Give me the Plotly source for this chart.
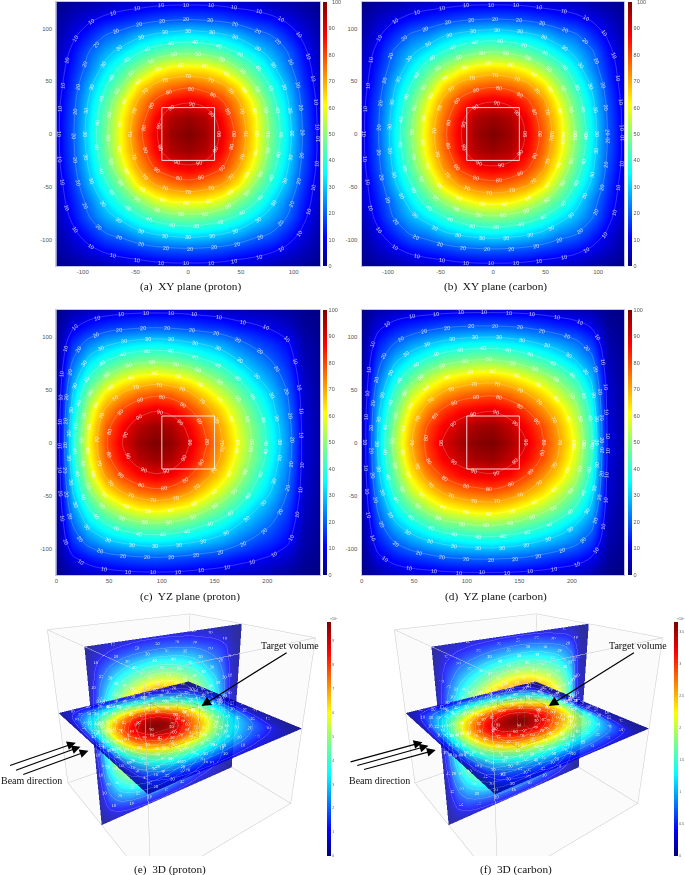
import math
import numpy as np
import plotly.graph_objects as go

W, H = 685, 875
AXIS_MM = [-125, -109.375, -93.75, -78.125, -62.5, -46.875, -31.25, -15.625, 0,
           15.625, 31.25, 46.875, 62.5, 78.125, 93.75, 109.375, 125]
DEPTH_MM = [0, 15.625, 31.25, 46.875, 62.5, 78.125, 93.75, 109.375, 125, 140.625,
            156.25, 171.875, 187.5, 203.125, 218.75, 234.375, 250]
XY_TICKS = [-100, -50, 0, 50, 100]
DEPTH_TICKS = [0, 50, 100, 150, 200]
LEVELS = [10, 20, 30, 40, 50, 60, 70, 80, 90]
CBAR_TICKS = [0, 10, 20, 30, 40, 50, 60, 70, 80, 90, 100]
TICKS_3D_P = [0, 1, 2, 3, 4, 5, 6, 7, 8, 9]
TICKS_3D_C = [0, 0.5, 1, 1.5, 2, 2.5, 3, 3.5]
PEAK_3D_P = 9.8
PEAK_3D_C = 3.65
CAPTIONS = ["(a)  XY plane (proton)", "(b)  XY plane (carbon)", "(c)  YZ plane (proton)",
            "(d)  YZ plane (carbon)", "(e)  3D (proton)", "(f)  3D (carbon)"]

# Relative dose, quadrant from the centre outwards (rows: |y|, columns: |x|)
XY_PROTON = [
    [100, 97, 89, 77.5, 62.5, 48, 34, 19, 8],
    [97, 95, 87, 75, 62, 47, 33, 18.5, 8],
    [89, 87, 81, 71, 58, 44, 31, 17.5, 7.5],
    [77.5, 75, 71, 63, 50, 39, 28, 15.5, 6.5],
    [62.5, 62, 58, 50, 42, 33, 23, 13.5, 6],
    [48, 47, 44, 39, 33, 27, 20, 11.5, 4.5],
    [34, 33, 31, 28, 23, 20, 14, 8.5, 3.5],
    [19, 18.5, 17.5, 15.5, 13.5, 11.5, 8.5, 5.5, 2.5],
    [8, 8, 7.5, 6.5, 6, 4.5, 3.5, 2.5, 1],
]
XY_CARBON = [
    [100, 97, 89.5, 78, 64, 49.5, 35, 19.5, 8],
    [97, 95, 88, 76, 63, 48, 34, 19, 8],
    [89.5, 88, 82, 72, 59, 45, 32, 18, 7.5],
    [78, 76, 72, 64, 52, 40, 29, 16, 6.5],
    [64, 63, 59, 52, 44, 34, 24, 14, 6],
    [49.5, 48, 45, 40, 34, 28, 21, 12, 5],
    [35, 34, 32, 29, 24, 21, 15, 9, 3.5],
    [19.5, 19, 18, 16, 14, 12, 9, 6, 2.5],
    [8, 8, 7.5, 6.5, 6, 5, 3.5, 2.5, 1],
]
# Rows: |y| outwards, columns: depth 0..250
YZ_PROTON = [
    [3, 37, 62, 79, 90, 97, 100, 98, 91, 81.5, 71, 60, 48, 37, 25, 8, 3],
    [3, 36, 60, 77, 87, 94, 97, 95, 88, 79, 69, 58, 47, 36, 24, 8, 3],
    [3, 33, 56, 71, 80, 86, 89, 87, 81, 73, 64, 54, 43, 33, 22, 7.5, 2.5],
    [2.5, 30, 49, 62, 70, 75, 77.5, 76, 71, 64, 56, 47.5, 38, 30, 20, 7, 2.5],
    [2.5, 25, 40, 50, 57, 61, 62.5, 61, 58, 52, 46, 39, 31, 25, 17, 6, 2],
    [2, 20, 32, 39, 44, 47, 48, 47, 44, 40, 36, 30, 25, 20, 14, 5, 2],
    [2, 15, 23, 28, 31, 33, 34, 33, 31, 29, 26, 22, 18, 15, 11, 4, 1.5],
    [1.5, 9, 13, 16, 17.5, 18.5, 19, 18.5, 17.5, 16, 15, 12.5, 11, 9, 6.5, 2.5, 1],
    [1, 4, 5.5, 6.5, 7.5, 8, 8, 8, 7.5, 7, 6, 5.5, 4.5, 4, 3, 1.5, 0.5],
]
YZ_CARBON = [
    [3, 31, 53, 69, 82, 91, 96, 99, 100, 96, 90, 81, 71, 59, 41, 8, 3],
    [3, 30, 51, 67, 80, 88, 93, 96, 97, 93, 87, 79, 69, 57, 40, 8, 3],
    [3, 28, 47, 62, 73, 81, 86, 88, 89, 86, 80, 72, 64, 53, 37, 7.5, 2.5],
    [2.5, 25, 42, 55, 64, 71, 75, 77, 78, 75, 70, 64, 56, 47, 33, 7, 2.5],
    [2.5, 21, 35, 45, 53, 59, 62, 64, 64.5, 62, 58, 53, 47, 39, 28, 6, 2],
    [2, 17, 28, 35, 41, 46, 48, 50, 50, 48, 45, 41, 36, 30, 22, 5, 2],
    [2, 13, 20, 25, 29, 32, 34, 35, 35.5, 34, 32, 29, 26, 22, 16, 4, 1.5],
    [1.5, 8.5, 12.5, 15, 17, 19, 20, 20.5, 20.5, 20, 19, 17, 15, 13, 9.5, 2.5, 1],
    [1, 4, 5.5, 6.5, 7, 7.5, 8, 8, 8, 8, 7.5, 7, 6, 5, 4, 1.5, 0.5],
]

JET = [[0, "#00007f"], [0.11, "#0000ff"], [0.35, "#00ffff"], [0.49, "#80ff80"],
       [0.61, "#ffff00"], [0.87, "#ff0000"], [1, "#7f0000"]]
SANS = "Liberation Sans"
SERIF = "Liberation Serif"


def px(x):
    return x / W


def py(y):
    return 1 - y / H


def mirror_rows(rows):
    return np.array(rows[:0:-1] + rows, dtype=float)


def mirror_quadrant(rows):
    full = [r[:0:-1] + r for r in rows]
    return mirror_rows(full)


def sample(xs, ys, Z, x, y):
    i = min(max(np.searchsorted(xs, x) - 1, 0), len(xs) - 2)
    j = min(max(np.searchsorted(ys, y) - 1, 0), len(ys) - 2)
    tx = (x - xs[i]) / (xs[i + 1] - xs[i])
    ty = (y - ys[j]) / (ys[j + 1] - ys[j])
    return ((1 - tx) * (1 - ty) * Z[j, i] + tx * (1 - ty) * Z[j, i + 1]
            + (1 - tx) * ty * Z[j + 1, i] + tx * ty * Z[j + 1, i + 1])


def iso_path(xs, ys, Z, level):
    """Contour of the table at `level`, walked out from the peak of the table."""
    j0, i0 = np.unravel_index(np.argmax(Z), Z.shape)
    cx, cy = xs[i0], ys[j0]
    pts = []
    for a in np.linspace(0, 2 * math.pi, 361):
        r = 0.0
        hit = None
        while True:
            r += 0.5
            x, y = cx + r * math.cos(a), cy + r * math.sin(a)
            if x < xs[0] or x > xs[-1] or y < ys[0] or y > ys[-1]:
                break
            if sample(xs, ys, Z, x, y) < level:
                hit = (x, y)
                break
        pts.append(hit)
    return pts


def label_spots(xs, ys, Z, level, spacing):
    pts = iso_path(xs, ys, Z, level)
    spots = []
    run = spacing * 0.5 + level * 0.37
    n = len(pts) - 1
    for k in range(n):
        p, q = pts[k], pts[k + 1]
        if p is None or q is None:
            continue
        run += math.hypot(q[0] - p[0], q[1] - p[1])
        a, b = pts[(k - 8) % n], pts[(k + 8) % n]
        if run >= spacing and a is not None and b is not None:
            run = 0
            ang = math.degrees(math.atan2(-(b[1] - a[1]), b[0] - a[0]))
            while ang > 90:
                ang -= 180
            while ang <= -90:
                ang += 180
            spots.append((p[0], p[1], ang))
    return spots


fig = go.Figure()
annotations = []
shapes = []

PANELS = [
    ("", AXIS_MM, mirror_quadrant(XY_PROTON), XY_TICKS, [-25, 25], 54.5, 319, 2, 266, 321.7),
    ("2", AXIS_MM, mirror_quadrant(XY_CARBON), XY_TICKS, [-25, 25], 360.7, 624.3, 2, 266, 627.7),
    ("3", DEPTH_MM, mirror_rows(YZ_PROTON), DEPTH_TICKS, [100, 150], 54.5, 319, 310, 575, 321.7),
    ("4", DEPTH_MM, mirror_rows(YZ_CARBON), DEPTH_TICKS, [100, 150], 360.7, 624.3, 310, 575, 627.7),
]
for sfx, xs, Z, xticks, box, x0, x1, y0, y1, cb in PANELS:
    xa, ya = "x" + sfx, "y" + sfx
    fig.add_trace(go.Heatmap(
        x=xs, y=AXIS_MM, z=Z, xaxis=xa, yaxis=ya, zsmooth="best", colorscale=JET, zmin=0, zmax=100,
        hoverinfo="skip",
        colorbar=dict(x=px(cb), xanchor="left", xpad=0, ypad=0, y=py((y0 + y1) / 2), yanchor="middle",
                      len=(y1 - y0) / H, lenmode="fraction", thickness=4, thicknessmode="pixels",
                      outlinewidth=0, ticks="", tickvals=CBAR_TICKS,
                      tickfont=dict(size=5.5, family=SANS, color="#555555")),
    ))
    fig.add_trace(go.Contour(
        x=xs, y=AXIS_MM, z=Z, xaxis=xa, yaxis=ya, showscale=False, hoverinfo="skip",
        contours=dict(coloring="none", start=LEVELS[0], end=LEVELS[-1], size=10),
        line=dict(color="rgba(255,255,255,0.35)", width=0.6, smoothing=1),
    ))
    fig.update_layout({
        ("xaxis" + sfx): dict(domain=[px(x0), px(x1)], range=[xs[0], xs[-1]], anchor=ya, tickvals=xticks,
                              ticktext=[str(t) for t in xticks],
                              ticks="outside", ticklen=0, tickcolor="rgba(0,0,0,0)", showgrid=False,
                              zeroline=False, showline=True, mirror=True, linecolor="#c4c4ea", linewidth=1,
                              tickfont=dict(size=6, family=SANS, color="#555555")),
        ("yaxis" + sfx): dict(domain=[py(y1), py(y0)], range=[-125, 125], anchor=xa, tickvals=XY_TICKS,
                              ticktext=[str(t) for t in XY_TICKS],
                              ticks="outside", ticklen=2, tickcolor="rgba(0,0,0,0)", showgrid=False,
                              zeroline=False, showline=True, mirror=True, linecolor="#c4c4ea", linewidth=1,
                              tickfont=dict(size=6, family=SANS, color="#555555")),
    })
    shapes.append(dict(type="rect", xref=xa, yref=ya, x0=box[0], x1=box[1], y0=-25, y1=25,
                       line=dict(color="rgba(255,255,255,0.85)", width=1)))
    for lv in LEVELS:
        for x, y, ang in label_spots(np.array(xs, float), np.array(AXIS_MM, float), Z, lv, 22):
            annotations.append(dict(xref=xa, yref=ya, x=x, y=y, text=str(lv), textangle=ang, showarrow=False,
                                    font=dict(size=5.5, family=SANS, color="rgba(255,255,255,0.8)"),
                                    borderpad=0))
    if y0 < 5:
        annotations.append(dict(xref="paper", yref="paper", x=px(cb + 6.8), y=py(2.2), text=str(CBAR_TICKS[-1]),
                                showarrow=False, xanchor="left", yanchor="middle",
                                font=dict(size=5.5, family=SANS, color="#555555")))

# 3D panels
BOX_X = [DEPTH_MM[0], DEPTH_MM[-1]]
BOX_Y = [AXIS_MM[0], AXIS_MM[-1]]
CUBE = [100, 150]
CUBE_T = [-25, 25]


def edges(xr, yr, zr):
    xo, yo, zo = [], [], []
    for a in yr:
        for b in zr:
            xo += [xr[0], xr[1], None]; yo += [a, a, None]; zo += [b, b, None]
    for a in xr:
        for b in zr:
            xo += [a, a, None]; yo += [yr[0], yr[1], None]; zo += [b, b, None]
    for a in xr:
        for b in yr:
            xo += [a, a, None]; yo += [b, b, None]; zo += [zr[0], zr[1], None]
    return xo, yo, zo


PANELS_3D = [("scene", mirror_rows(YZ_PROTON), PEAK_3D_P, TICKS_3D_P, 9, 337, 326),
             ("scene2", mirror_rows(YZ_CARBON), PEAK_3D_C, TICKS_3D_C, 357, 685, 674)]
LIGHT = dict(ambient=1, diffuse=0, specular=0, fresnel=0, roughness=1)
for scene, Z, peak, ticks, sx0, sx1, cb in PANELS_3D:
    C = Z * peak / 100
    X, Y = np.meshgrid(DEPTH_MM, AXIS_MM)
    ex, ey, ez = edges(BOX_X, BOX_Y, BOX_Y)
    fig.add_trace(go.Scatter3d(x=ex, y=ey, z=ez, scene=scene, mode="lines", hoverinfo="skip", showlegend=False,
                               line=dict(color="#c9c9c9", width=1)))
    # upright plane first, the flat plane over it
    fig.add_trace(go.Surface(x=X, y=np.zeros_like(X), z=Y, surfacecolor=C, scene=scene, colorscale=JET, cmin=0,
                             cmax=peak, opacity=0.82, lighting=LIGHT, hoverinfo="skip", showscale=False))
    fig.add_trace(go.Surface(
        x=X, y=Y, z=np.zeros_like(X), surfacecolor=C, scene=scene, colorscale=JET, cmin=0, cmax=peak,
        opacity=0.88, lighting=LIGHT, hoverinfo="skip",
        colorbar=dict(x=px(cb), xanchor="left", xpad=0, ypad=0, y=py(739), yanchor="middle",
                      len=234 / H, lenmode="fraction", thickness=3.5, thicknessmode="pixels", outlinewidth=0,
                      ticks="", tickvals=ticks, tickfont=dict(size=3.5, family=SANS, color="#555555"))))
    ex, ey, ez = edges(CUBE, CUBE_T, CUBE_T)
    fig.add_trace(go.Scatter3d(x=ex, y=ey, z=ez, scene=scene, mode="lines", hoverinfo="skip", showlegend=False,
                               opacity=0.55, line=dict(color="#96704f", width=1)))
    xs3, ys3 = np.array(DEPTH_MM, float), np.array(AXIS_MM, float)
    for lv in LEVELS:
        path = [p for p in iso_path(xs3, ys3, Z, lv) if p is not None]
        u = [p[0] for p in path]
        v = [p[1] for p in path]
        fig.add_trace(go.Scatter3d(x=u, y=v, z=[0.5] * len(path), scene=scene, mode="lines", hoverinfo="skip",
                                   showlegend=False, opacity=0.3, line=dict(color="#ffffff", width=1)))
        fig.add_trace(go.Scatter3d(x=u, y=[-0.5] * len(path), z=v, scene=scene, mode="lines", hoverinfo="skip",
                                   showlegend=False, opacity=0.3, line=dict(color="#ffffff", width=1)))
        spots = label_spots(xs3, ys3, Z, lv, 30)
        u = [s[0] for s in spots]
        v = [s[1] for s in spots]
        txt = [str(lv)] * len(spots)
        tf = dict(size=4, family=SANS, color="#ffffff")
        fig.add_trace(go.Scatter3d(x=u, y=v, z=[0.5] * len(u), text=txt, scene=scene, mode="text", textfont=tf,
                                   opacity=0.75, hoverinfo="skip", showlegend=False))
        fig.add_trace(go.Scatter3d(x=u, y=[-0.5] * len(u), z=v, text=txt, scene=scene, mode="text", textfont=tf,
                                   opacity=0.75, hoverinfo="skip", showlegend=False))
    blank = dict(showgrid=False, zeroline=False, showticklabels=False, showspikes=False, ticks="", title="",
                 showbackground=True, backgroundcolor="#fbfbfb", showline=False)
    fig.update_layout({scene: dict(
        domain=dict(x=[px(sx0), px(sx1)], y=[py(856), py(556)]),
        xaxis=dict(blank, range=BOX_X), yaxis=dict(blank, range=BOX_Y), zaxis=dict(blank, range=BOX_Y),
        aspectmode="manual", aspectratio=dict(x=1, y=1, z=1),
        camera=dict(eye=dict(x=-1.123, y=-1.525, z=0.875), center=dict(x=0, y=0, z=0.09), up=dict(x=0, y=0, z=1)),
    )})
    annotations.append(dict(xref="paper", yref="paper", x=px(cb + 1), y=py(619), text="×10<sup>7</sup>",
                            showarrow=False, xanchor="left", yanchor="middle",
                            font=dict(size=3.5, family=SANS, color="#555555")))


def arrow(tail, head, width=1.1):
    annotations.append(dict(xref="paper", yref="paper", x=px(head[0]), y=py(head[1]),
                            ax=tail[0] - head[0], ay=tail[1] - head[1], text="",
                            showarrow=True, arrowhead=2, arrowsize=1.6, arrowwidth=width, arrowcolor="#000000"))


def note(x, y, text, size=10):
    annotations.append(dict(xref="paper", yref="paper", x=px(x), y=py(y), text=text, showarrow=False,
                            xanchor="center", yanchor="middle",
                            font=dict(size=size, family=SERIF, color="#111111")))


arrow((286.7, 651.7), (200, 706), 1.2)
arrow((635, 651.7), (548.3, 706), 1.2)
for t, h in [((6.7, 766), (74, 742.7)), ((12.7, 770.7), (78.7, 746.7)), ((20, 775), (86.7, 750.7))]:
    arrow(t, h)
for t, h in [((348.3, 762.3), (421.7, 742.3)), ((355, 766), (427.7, 745.7)), ((361.7, 770), (435, 750))]:
    arrow(t, h)
note(289, 645.7, "Target volume")
note(637.7, 645.7, "Target volume")
note(30, 780, "Beam direction")
note(378.3, 780, "Beam direction")
for cap, cx, cy in zip(CAPTIONS, [189, 495, 189, 495, 168, 516], [286.7, 286.7, 596, 596, 869, 869]):
    note(cx, cy, cap, 11.3)

fig.update_layout(width=W, height=H, margin=dict(l=0, r=0, t=0, b=0), paper_bgcolor="white", plot_bgcolor="white",
                  showlegend=False, annotations=annotations, shapes=shapes)
fig.write_html("out.html", config=dict(displayModeBar=False),
               post_script="document.body.style.margin='0';document.body.style.overflow='hidden';")
